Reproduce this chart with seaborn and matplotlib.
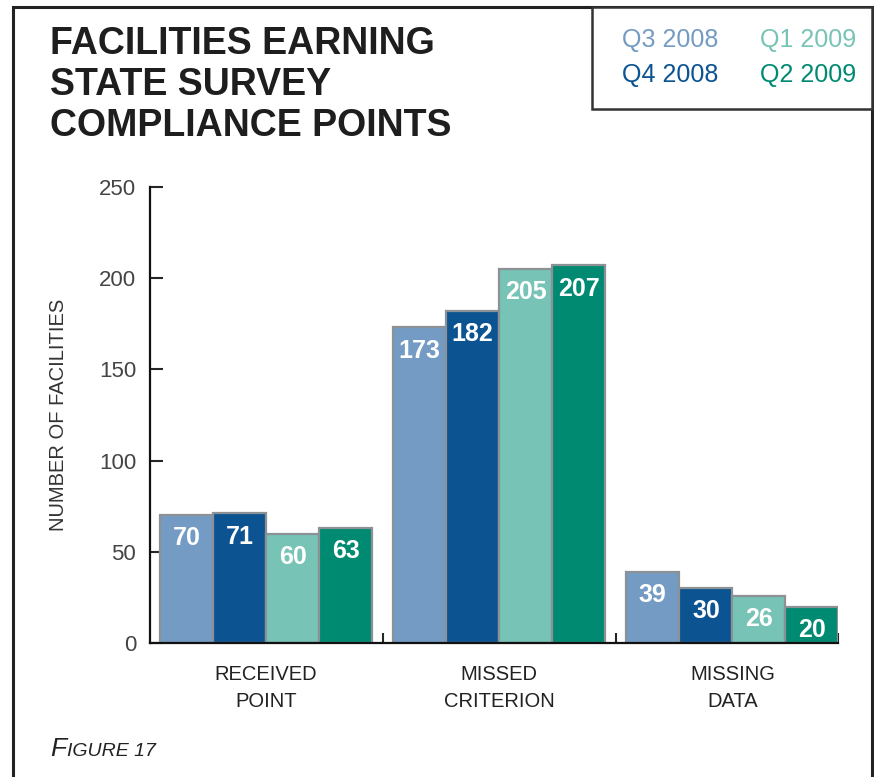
import matplotlib
matplotlib.use("Agg")
import matplotlib.pyplot as plt
import seaborn as sns
import pandas as pd
from matplotlib.patches import Rectangle

categories = ["RECEIVED\nPOINT", "MISSED\nCRITERION", "MISSING\nDATA"]
series = ["Q3 2008", "Q4 2008", "Q1 2009", "Q2 2009"]
q3_2008 = [70, 173, 39]
q4_2008 = [71, 182, 30]
q1_2009 = [60, 205, 26]
q2_2009 = [63, 207, 20]
colors = ["#749bc4", "#0b5491", "#77c4b6", "#008a72"]
yticks = [0, 50, 100, 150, 200, 250]

sns.set_theme(style="white")
plt.rcParams["font.family"] = ["Liberation Sans", "DejaVu Sans"]

rows = []
for s, vals in zip(series, [q3_2008, q4_2008, q1_2009, q2_2009]):
    for c, v in zip(categories, vals):
        rows.append({"cat": c, "series": s, "val": v})
df = pd.DataFrame(rows)

W, H = 874, 777
fig = plt.figure(figsize=(8.74, 7.77), dpi=100)
ax = fig.add_axes([150 / W, 1 - 643 / H, 688 / W, 456 / H])
sns.barplot(data=df, x="cat", y="val", hue="series", hue_order=series,
            order=categories, palette=colors, width=0.91, gap=0, saturation=1,
            edgecolor="#8c9196", linewidth=1.6, legend=False, ax=ax, errorbar=None)

for cont in ax.containers:
    for bar in cont:
        h = bar.get_height()
        ax.annotate(f"{int(h)}", (bar.get_x() + bar.get_width() / 2, h),
                    xytext=(0, -8), textcoords="offset points",
                    ha="center", va="top", color="white", fontsize=18,
                    fontweight="semibold")

ax.set_ylim(0, 250)
ax.set_xlim(-0.498, 2.453)
ax.set_yticks(yticks)
ax.set_yticklabels([str(t) for t in yticks], fontsize=16, color="#444444")
ax.tick_params(axis="y", direction="in", length=9, width=1.5, left=True, pad=10)
ax.set_xticks([0, 1, 2])
ax.set_xticklabels(categories, linespacing=1.55)
ax.tick_params(axis="x", length=0, pad=16, labelsize=14.5, labelcolor="#222222")
ax.set_xticks([0.5, 1.5, 2.453], minor=True)
ax.tick_params(axis="x", which="minor", direction="in", length=7, width=1.5, bottom=True)
for sp in ["top", "right"]:
    ax.spines[sp].set_visible(False)
for sp in ["left", "bottom"]:
    ax.spines[sp].set_color("#111111")
    ax.spines[sp].set_linewidth(1.6)
ax.set_xlabel("")
ax.set_ylabel("NUMBER OF FACILITIES", fontsize=14.5, color="#333333", labelpad=22)

# outer frame
fig.patches.append(Rectangle((13 / W, -0.01), 859 / W, 1 - 7 / H + 0.01,
                             transform=fig.transFigure, fill=False,
                             edgecolor="#222222", linewidth=2.2))
# legend box
fig.patches.append(Rectangle((592 / W, 1 - 109 / H), 280 / W, 102 / H,
                             transform=fig.transFigure, facecolor="white",
                             edgecolor="#333333", linewidth=1.8))
leg_pos = [(670, 40), (670, 75), (808, 40), (808, 75)]
for s, c, (x, y) in zip(series, colors, leg_pos):
    fig.text(x / W, 1 - y / H, s, color=c, fontsize=18, ha="center", va="center")

fig.text(50 / W, 1 - 26 / H, "FACILITIES EARNING\nSTATE SURVEY\nCOMPLIANCE POINTS",
         fontsize=27, fontweight="bold", color="#1e1e1e", ha="left", va="top",
         linespacing=1.17)

t1 = fig.text(50 / W, 1 - 756 / H, "F", fontsize=19, style="italic",
              color="#222222", ha="left", va="baseline")
fig.canvas.draw()
bb = t1.get_window_extent()
fig.text(bb.x1 / fig.bbox.width + 0.001, 1 - 756 / H, "IGURE 17", fontsize=14,
         style="italic", color="#222222", ha="left", va="baseline")

fig.savefig("out.png", dpi=100)
